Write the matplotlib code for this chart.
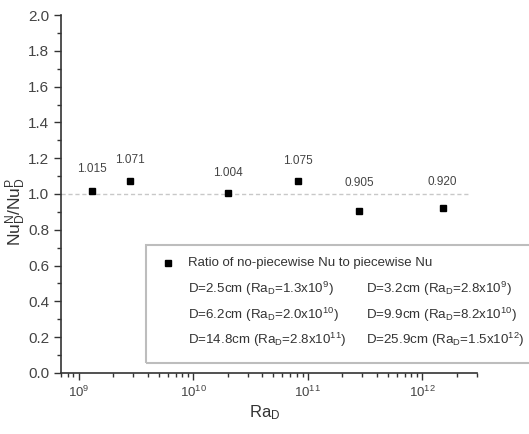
import numpy as np
import matplotlib
matplotlib.use("Agg")
import matplotlib.pyplot as plt
from matplotlib.patches import Rectangle
from matplotlib.ticker import LogLocator, MultipleLocator, FormatStrFormatter

plt.rcParams["font.family"] = ["Liberation Sans", "DejaVu Sans"]
plt.rcParams["mathtext.fontset"] = "custom"
plt.rcParams["mathtext.rm"] = "Liberation Sans"
plt.rcParams["mathtext.it"] = "Liberation Sans"

# Data
ra = [1.3e9, 2.8e9, 2.0e10, 8.2e10, 2.8e11, 1.5e12]
ratio = [1.015, 1.071, 1.004, 1.075, 0.905, 0.920]
labels = ["1.015", "1.071", "1.004", "1.075", "0.905", "0.920"]
label_off = [12, 11, 10, 10, 16, 14.5]  # points above the marker

cases = [
    r"D=2.5cm (Ra$_\mathregular{D}$=1.3x10$^\mathregular{9}$)",
    r"D=3.2cm (Ra$_\mathregular{D}$=2.8x10$^\mathregular{9}$)",
    r"D=6.2cm (Ra$_\mathregular{D}$=2.0x10$^\mathregular{10}$)",
    r"D=9.9cm (Ra$_\mathregular{D}$=8.2x10$^\mathregular{10}$)",
    r"D=14.8cm (Ra$_\mathregular{D}$=2.8x10$^\mathregular{11}$)",
    r"D=25.9cm (Ra$_\mathregular{D}$=1.5x10$^\mathregular{12}$)",
]

txt = "#333333"
fig = plt.figure(figsize=(5.29, 4.34), dpi=100)
ax = fig.add_axes([0.1153, 0.1406, 0.7864, 0.8248])

ax.axhline(1.0, xmax=0.98, color="#c8c8c8", lw=1, ls=(0, (3, 2)), zorder=1)
ax.plot(ra, ratio, "s", color="black", ms=5, zorder=3)
for x, y, s, o in zip(ra, ratio, labels, label_off):
    ax.annotate(s, (x, y), xytext=(0, o), textcoords="offset points",
                ha="center", va="bottom", fontsize=8.5, color="#444444")

ax.set_xscale("log")
ax.set_xlim(7e8, 3e12)
ax.set_ylim(0, 2.0)
ax.yaxis.set_major_locator(MultipleLocator(0.2))
ax.yaxis.set_minor_locator(MultipleLocator(0.1))
ax.xaxis.set_major_locator(LogLocator(base=10, numticks=10))
ax.xaxis.set_minor_locator(LogLocator(base=10, subs=np.arange(2, 10), numticks=20))
ax.yaxis.set_major_formatter(FormatStrFormatter("%.1f"))

for s in ["top", "right"]:
    ax.spines[s].set_visible(False)
for s in ["left", "bottom"]:
    ax.spines[s].set_color("#333333")
    ax.spines[s].set_linewidth(1.2)
ax.tick_params(which="major", direction="out", length=5, width=1, colors="#333333",
               labelcolor="#444444", labelsize=11)
ax.tick_params(which="minor", direction="out", length=3, width=1, colors="#333333")
ax.tick_params(axis="x", labelsize=9.5)

fig.text(265 / 529, 1 - 413 / 434, r"Ra$_\mathregular{D}$", fontsize=12, color=txt,
         ha="center", va="center")
fig.text(16 / 529, 1 - 212 / 434,
         r"Nu$_\mathregular{D}^\mathregular{N}$/Nu$_\mathregular{D}^\mathregular{P}$",
         fontsize=12.5, color=txt, ha="center", va="center", rotation=90)

# legend box drawn by hand
ax.add_patch(Rectangle((0.204, 0.028), 1.0, 0.33, transform=ax.transAxes,
                       fill=False, ec="#bdbdbd", lw=1.5, clip_on=False, zorder=2))
ax.plot([0.258], [0.308], "s", color="black", ms=4, transform=ax.transAxes, clip_on=False)
ax.text(0.305, 0.308, "Ratio of no-piecewise Nu to piecewise Nu", transform=ax.transAxes,
        fontsize=9.5, color=txt, va="center")
col_x = [0.305, 0.733]
row_y = [0.235, 0.163, 0.093]
for i, c in enumerate(cases):
    ax.text(col_x[i % 2], row_y[i // 2], c, transform=ax.transAxes,
            fontsize=9.6, color=txt, va="center")

fig.savefig("out.png", dpi=100)
